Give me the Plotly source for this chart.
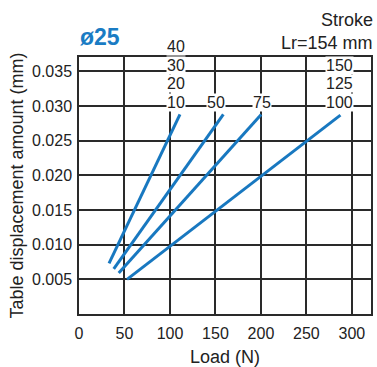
import plotly.graph_objects as go

# Data (load in N, displacement in mm)
strokes = ["10", "50", "75", "100"]
load_start = [33.0, 38.2, 43.7, 52.8]
load_end = [111.0, 158.7, 200.3, 287.4]
disp_start = [0.0073, 0.0065, 0.0059, 0.0050]
disp_end = [0.0288, 0.0288, 0.0288, 0.0287]

# Extra stroke labels stacked above the first and last line
stack_left = ["20", "30", "40"]
stack_right = ["125", "150"]

x_ticks = [0, 50, 100, 150, 200, 250, 300]
y_ticks = [0.005, 0.010, 0.015, 0.020, 0.025, 0.030, 0.035]

BLUE = "#1878c0"
TXT = "#222"
FONT = "Liberation Sans, Arial, sans-serif"

fig = go.Figure()
for i, s in enumerate(strokes):
    fig.add_trace(go.Scatter(
        x=[load_start[i], load_end[i]],
        y=[disp_start[i], disp_end[i]],
        mode="lines",
        line=dict(color=BLUE, width=3),
        name=s,
        showlegend=False,
        hoverinfo="skip",
    ))

label_y = 0.030
step_px = 18.4
base_shift = 4
xshifts = [-4, -7, 1, -1]
lab_font = dict(size=16, color=TXT, family=FONT)
anns = []
for i, s in enumerate(strokes):
    anns.append(dict(x=load_end[i], y=label_y, text=s, xref="x", yref="y",
                     showarrow=False, xshift=xshifts[i], yshift=base_shift,
                     bgcolor="white", borderpad=0, font=lab_font))
for j, s in enumerate(stack_left):
    anns.append(dict(x=load_end[0], y=label_y, text=s, xref="x", yref="y",
                     showarrow=False, xshift=xshifts[0], yshift=base_shift + step_px * (j + 1),
                     bgcolor="white", borderpad=0, font=lab_font))
for j, s in enumerate(stack_right):
    anns.append(dict(x=load_end[3], y=label_y, text=s, xref="x", yref="y",
                     showarrow=False, xshift=xshifts[3], yshift=base_shift + step_px * (j + 1),
                     bgcolor="white", borderpad=0, font=lab_font))

anns.append(dict(x=1.0, y=1.0, xref="paper", yref="paper", xanchor="right", yanchor="middle",
                 text="Stroke", showarrow=False, yshift=37, xshift=4,
                 font=dict(size=18, color=TXT, family=FONT)))
anns.append(dict(x=1.0, y=1.0, xref="paper", yref="paper", xanchor="right", yanchor="middle",
                 text="Lr=154 mm", showarrow=False, yshift=14, xshift=4,
                 font=dict(size=18, color=TXT, family=FONT)))
anns.append(dict(x=0.0, y=1.0, xref="paper", yref="paper", xanchor="left", yanchor="middle",
                 text="<b>ø25</b>", showarrow=False, yshift=20, xshift=-1,
                 font=dict(size=23, color="#1a7cc4", family=FONT)))

fig.update_layout(
    width=377, height=367,
    margin=dict(l=79, r=6, t=57, b=53, autoexpand=False),
    paper_bgcolor="white", plot_bgcolor="white",
    font=dict(family=FONT, color=TXT),
    annotations=anns,
    xaxis=dict(range=[0, 321], tickvals=x_ticks, showgrid=True, gridcolor="#2a2a2a",
               gridwidth=1.5, showline=True, linecolor="#2a2a2a", linewidth=1.5, mirror=True,
               zeroline=False, ticks="", automargin=False, ticklabelstandoff=4,
               tickfont=dict(size=16, color=TXT),
               title=dict(text="Load (N)", font=dict(size=18, color=TXT), standoff=13)),
    yaxis=dict(range=[0, 0.03708], tickvals=y_ticks, tickformat=".3f", showgrid=True,
               gridcolor="#2a2a2a", gridwidth=1.5, showline=True, linecolor="#2a2a2a",
               linewidth=1.5, mirror=True, zeroline=False, ticks="", automargin=False,
               ticklabelstandoff=2,
               tickfont=dict(size=16, color=TXT),
               title=dict(text="Table displacement amount (mm)",
                          font=dict(size=18, color=TXT), standoff=4)),
)

fig.write_html("out.html", config={"displayModeBar": False},
               post_script="document.body.style.margin='0';document.body.style.overflow='hidden';")
